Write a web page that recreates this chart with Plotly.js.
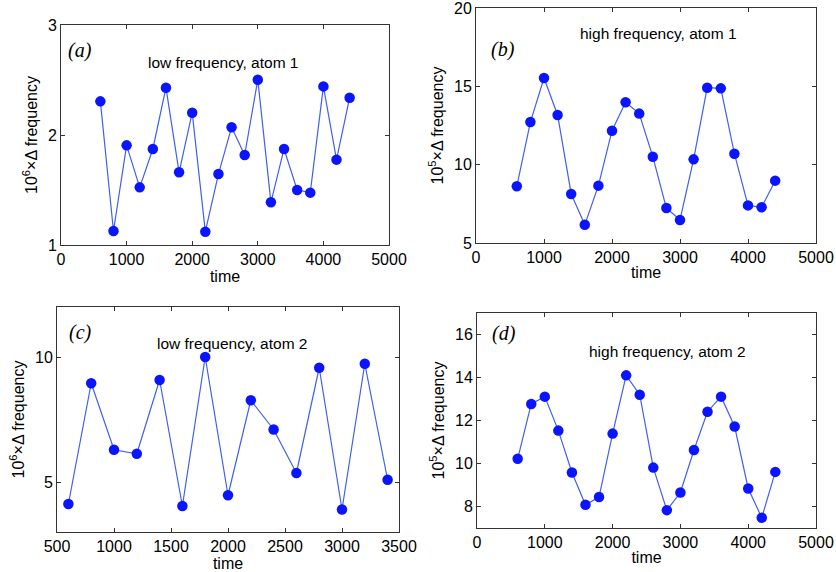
<!DOCTYPE html>
<html><head><meta charset="utf-8">
<script src="https://cdn.plot.ly/plotly-3.0.1.min.js"></script>
<style>body{margin:0;background:#fff}#plot{width:836px;height:572px}</style>
</head><body><div id="plot"></div>
<script>
const timeA = [600,800,1000,1200,1400,1600,1800,2000,2200,2400,2600,2800,3000,3200,3400,3600,3800,4000,4200,4400];
const lowAtom1 = [2.306,1.127,1.906,1.524,1.873,2.430,1.661,2.203,1.121,1.645,2.070,1.818,2.503,1.388,1.873,1.500,1.476,2.442,1.776,2.339];
const highAtom1 = [8.62,12.72,15.53,13.17,8.13,6.17,8.66,12.17,13.98,13.26,10.51,7.23,6.47,10.34,14.91,14.87,10.70,7.40,7.28,8.98];
const timeC = [600,800,1000,1200,1400,1600,1800,2000,2200,2400,2600,2800,3000,3200,3400];
const lowAtom2 = [4.12,8.95,6.29,6.13,9.08,4.04,10.0,4.47,8.27,7.10,5.36,9.57,3.90,9.73,5.09];
const highAtom2 = [10.22,12.77,13.11,11.53,9.58,8.08,8.44,11.39,14.10,13.20,9.81,7.83,8.65,10.63,12.41,13.11,11.72,8.84,7.48,9.61];
const panelLabels = ['(a)','(b)','(c)','(d)'];
const panelTitles = ['low frequency, atom 1','high frequency, atom 1','low frequency, atom 2','high frequency, atom 2'];
const yTitles = ['10<sup>6</sup>×Δ frequency','10<sup>5</sup>×Δ frequency','10<sup>6</sup>×Δ frequency','10<sup>5</sup>×Δ frequency'];

const W=836,H=572;
function dx(a,b){return [a/W,b/W];}
function dy(top,bot){return [1-bot/H,1-top/H];}

const lineColor='#4060ea', markColor='#0a14ff';
function tr(x,y,i){
  const s=i===0?'':String(i+1);
  return {x:x,y:y,type:'scatter',mode:'lines+markers',xaxis:'x'+s,yaxis:'y'+s,
    line:{color:lineColor,width:1.2},marker:{color:markColor,size:10.5},showlegend:false,hoverinfo:'skip'};
}
const data=[tr(timeA,lowAtom1,0),tr(timeA,highAtom1,1),tr(timeC,lowAtom2,2),tr(timeA,highAtom2,3)];

const tickFont={family:'Liberation Sans, Arial, sans-serif',size:16,color:'#000'};
const titleFont={family:'Liberation Sans, Arial, sans-serif',size:16,color:'#000'};
function xa(domain,range,dtick,anchor){
  return {domain:domain,range:range,dtick:dtick,tick0:0,ticks:'inside',ticklen:4,tickwidth:1,tickcolor:'#333',
    showline:true,linecolor:'#333',linewidth:1,mirror:'ticks',showgrid:false,zeroline:false,ticklabeloverflow:'allow',
    tickfont:tickFont,anchor:anchor,title:{text:'time',font:titleFont,standoff:1}};
}
function ya(domain,range,dtick,tick0,anchor,title){
  return {domain:domain,range:range,dtick:dtick,tick0:tick0,ticks:'inside',ticklen:4,tickwidth:1,tickcolor:'#333',
    showline:true,linecolor:'#333',linewidth:1,mirror:'ticks',showgrid:false,zeroline:false,ticklabeloverflow:'allow',
    tickfont:tickFont,anchor:anchor,title:{text:title,font:titleFont,standoff:6}};
}
const layout={
  width:W,height:H,margin:{l:0,r:0,t:0,b:0},paper_bgcolor:'#fff',plot_bgcolor:'#fff',showlegend:false,
  xaxis:xa(dx(61,389),[0,5000],1000,'y'),
  yaxis:ya(dy(25,245),[1,3],1,0,'x',yTitles[0]),
  xaxis2:xa(dx(476,816),[0,5000],1000,'y2'),
  yaxis2:ya(dy(8,243),[5,20],5,0,'x2',yTitles[1]),
  xaxis3:xa(dx(57,399),[500,3500],500,'y3'),
  yaxis3:ya(dy(307,532),[3,12],5,0,'x3',yTitles[2]),
  xaxis4:xa(dx(477,816),[0,5000],1000,'y4'),
  yaxis4:ya(dy(313,528),[7,17],2,0,'x4',yTitles[3]),
  annotations:[]
};
const labPos=[[290,2.77,'x','y'],[397,17.32,'x2','y2'],[702,11.0,'x3','y3'],[398,16.07,'x4','y4']];
const titPos=[[2470,2.66,'x','y'],[2690,18.4,'x2','y2'],[2035,10.56,'x3','y3'],[2817,15.19,'x4','y4']];
for(let i=0;i<4;i++){
  layout.annotations.push({text:'<i>'+panelLabels[i]+'</i>',x:labPos[i][0],y:labPos[i][1],xref:labPos[i][2],yref:labPos[i][3],
    showarrow:false,font:{family:'Liberation Serif, Times New Roman, serif',size:20,color:'#000'}});
  layout.annotations.push({text:panelTitles[i],x:titPos[i][0],y:titPos[i][1],xref:titPos[i][2],yref:titPos[i][3],
    showarrow:false,font:{family:'Liberation Sans, Arial, sans-serif',size:15.5,color:'#000'}});
}
Plotly.newPlot('plot',data,layout,{staticPlot:true});
</script></body></html>
